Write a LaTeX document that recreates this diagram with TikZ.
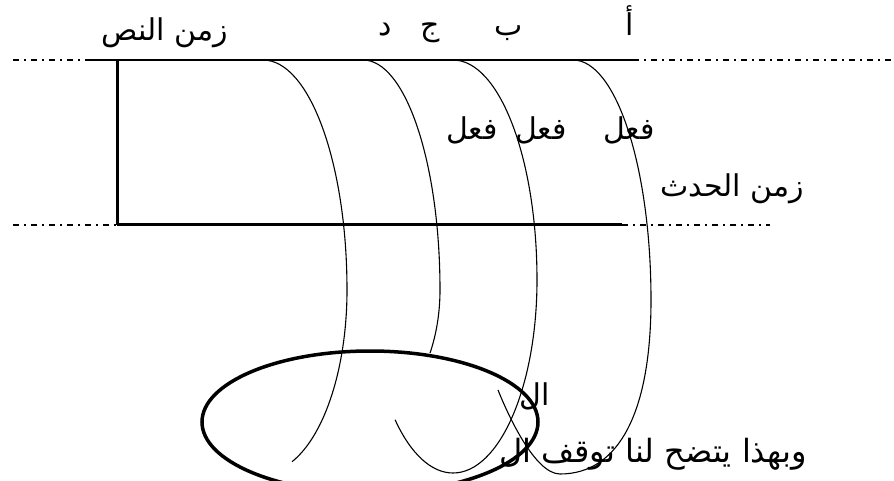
\documentclass[tikz,border=0pt]{standalone}
\usepackage{fontspec}
\newfontfamily\arabicfont[Script=Arabic]{DejaVu Sans}
\TeXXeTstate=1
\begin{document}
\begin{tikzpicture}[x=1pt,y=-1pt,
  lbl/.style={font=\arabicfont\fontsize{30}{34}\selectfont, inner sep=0pt, anchor=base},
  biglbl/.style={font=\arabicfont\fontsize{32}{36}\selectfont, inner sep=0pt, anchor=base east},
  dashdot/.style={line width=1.2pt, dash pattern=on 6pt off 5pt on 2pt off 5pt},
  thinline/.style={line width=1.6pt},
  thickline/.style={line width=3pt},
  curve/.style={line width=1.1pt},
  ring/.style={line width=3.5pt}]
\useasboundingbox (0,0) rectangle (894,481);
\clip (0,0) rectangle (894,481);

% labels
\node[lbl] (nass) at (165,41) {\beginR زمن النص\endR};
\node[lbl] (dal) at (385,36) {\beginR د\endR};
\node[lbl] (jim) at (430,36) {\beginR ج\endR};
\node[lbl] (ba) at (509,36) {\beginR ب\endR};
\node[lbl] (alif) at (630,36) {\beginR أ\endR};
\node[lbl] (f1) at (472,140) {\beginR فعل\endR};
\node[lbl] (f2) at (541,140) {\beginR فعل\endR};
\node[lbl] (f3) at (629,140) {\beginR فعل\endR};
\node[lbl] (hadath) at (732,197) {\beginR زمن الحدث\endR};
\node[lbl] (al) at (535,405) {\beginR ال\endR};
\node[biglbl] (bottom) at (807,462) {\beginR وبهذا يتضح لنا توقف ال\endR};

% horizontal and vertical lines
\coordinate (tl0) at (13,60);
\coordinate (tl1) at (90,60);
\coordinate (tl2) at (633,60);
\coordinate (tl3) at (894,60);
\coordinate (bl0) at (13,225);
\coordinate (bl1) at (117,225);
\coordinate (bl2) at (622,225);
\coordinate (bl3) at (770,225);
\coordinate (vt) at (117,60);
\draw[dashdot] (tl0) -- (tl1);
\draw[thinline] (tl1) -- (tl2);
\draw[dashdot] (tl2) -- (tl3);
\draw[dashdot] (bl0) -- (bl1);
\draw[thickline] (bl1) -- (bl2);
\draw[dashdot] (bl2) -- (bl3);
\draw[thickline] (vt) -- (bl1);

% curves
\coordinate (c1) at (263,60);
\coordinate (c2) at (363,60);
\coordinate (c3) at (453,60);
\coordinate (c4) at (573,60);
\draw[curve] (c1) arc[start angle=90,end angle=0,x radius=84pt,y radius=230pt]
  arc[start angle=0,end angle=-69.8,x radius=84pt,y radius=183pt];
\draw[curve] (c2) arc[start angle=90,end angle=0,x radius=77pt,y radius=230pt]
  arc[start angle=0,end angle=-29.5,x radius=77pt,y radius=128pt];
\draw[curve] (c3) arc[start angle=90,end angle=0,x radius=84pt,y radius=220pt]
  arc[start angle=0,end angle=-133.6,x radius=84pt,y radius=193pt];
\draw[curve] (c4) arc[start angle=90,end angle=0,x radius=78pt,y radius=240pt]
  .. controls (651,410) and (620,474) .. (560,474)
  .. controls (535,474) and (508,415) .. (498,390);

% ellipse
\coordinate (ellc) at (370,422);
\draw[ring] (ellc) ellipse[x radius=168pt, y radius=71pt];
\end{tikzpicture}
\end{document}
